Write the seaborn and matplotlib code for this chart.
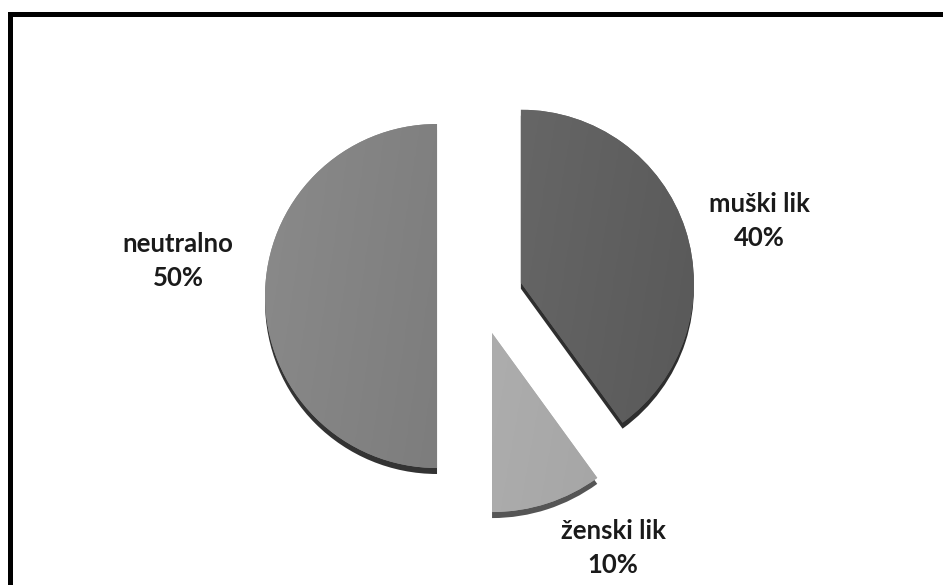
import numpy as np
import seaborn as sns
import matplotlib.pyplot as plt

# Pie data
labels = ['muški lik', 'ženski lik', 'neutralno']
shares = [40, 10, 50]
explode = [0.247, 0.224, 0.247]

# Gradient ends per slice (lighter, darker)
face_colors = [('#666666', '#595959'), ('#adadad', '#a6a6a6'), ('#8a8a8a', '#7d7d7d')]
edge_colors = ['#2e2e2e', '#555555', '#333333']

# Label centres in pixels from the top left
label_pos = [(759, 221), (613, 548), (178, 261)]

# The slices are not quite the same size in the original
slice_radius = [173, 179, 172]

WIDTH, HEIGHT = 943, 585
CENTER = (480, HEIGHT - 296)
RADIUS = 174
DEPTH = 6

sns.set_theme(style='white')
plt.rcParams['font.family'] = ['Lato', 'DejaVu Sans']

fig = plt.figure(figsize=(WIDTH / 100, HEIGHT / 100), dpi=100)
ax = fig.add_axes([0, 0, 1, 1])

# pie takes explode in data units, so scale it by the radius
offsets = [e * RADIUS for e in explode]

# Dark copy shifted down gives the thin 3D edge
back, _ = ax.pie(shares, explode=offsets, startangle=90, counterclock=False, radius=RADIUS,
                 center=(CENTER[0], CENTER[1] - DEPTH), colors=sns.color_palette(edge_colors),
                 wedgeprops={'linewidth': 0}, frame=True)
wedges, _ = ax.pie(shares, explode=offsets, startangle=90, counterclock=False, radius=RADIUS,
                   center=CENTER, colors=sns.color_palette([c[0] for c in face_colors]),
                   wedgeprops={'linewidth': 0}, frame=True)

for b, w, r in zip(back, wedges, slice_radius):
    b.set_radius(r)
    w.set_radius(r)

# Soft left to right shading, clipped to each slice
for wedge, (light, dark) in zip(wedges, face_colors):
    cmap = sns.blend_palette([light, dark], as_cmap=True)
    x0, y0, x1, y1 = wedge.get_path().get_extents(wedge.get_patch_transform()).extents
    ramp = np.linspace(0, 1, 64).reshape(1, -1) + np.linspace(0, 0.3, 64).reshape(-1, 1)
    img = ax.imshow(ramp, cmap=cmap, extent=(x0, x1, y0, y1), aspect='auto', vmin=0, vmax=1.3, zorder=3)
    img.set_clip_path(wedge)

for name, share, (px, py) in zip(labels, shares, label_pos):
    ax.text(px, HEIGHT - py, f'{name}\n{share}%', ha='center', va='center', fontsize=18.5,
            fontweight='bold', color='#1a1a1a', linespacing=1.5, zorder=5)

ax.set_xlim(0, WIDTH)
ax.set_ylim(0, HEIGHT)
ax.set_aspect('equal')
ax.set_xticks([])
ax.set_yticks([])
for side in ['right', 'bottom', 'top', 'left']:
    ax.spines[side].set_visible(False)

# Frame
ax.plot([9.5, 9.5, WIDTH], [0, HEIGHT - 13.5, HEIGHT - 13.5], color='black', lw=3.6,
        solid_joinstyle='miter', zorder=6)

fig.savefig('out.png', dpi=100, facecolor='white')
